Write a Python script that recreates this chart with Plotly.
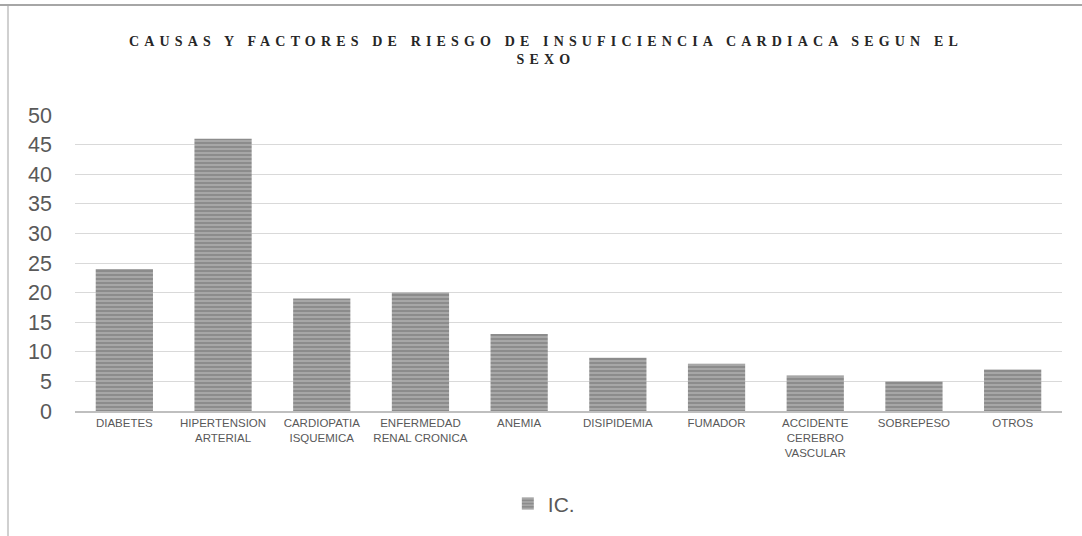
import plotly.graph_objects as go

categories = ["DIABETES", "HIPERTENSION<br>ARTERIAL", "CARDIOPATIA<br>ISQUEMICA",
              "ENFERMEDAD<br>RENAL CRONICA", "ANEMIA", "DISIPIDEMIA", "FUMADOR",
              "ACCIDENTE<br>CEREBRO<br>VASCULAR", "SOBREPESO", "OTROS"]
values = [24, 46, 19, 20, 13, 9, 8, 6, 5, 7]
series_name = "IC."
y_ticks = [0, 5, 10, 15, 20, 25, 30, 35, 40, 45, 50]
title_text = "CAUSAS Y FACTORES DE RIESGO DE INSUFICIENCIA CARDIACA SEGUN EL<br>SEXO"

fig = go.Figure()
fig.add_trace(go.Bar(
    x=categories, y=values, name=series_name,
    marker=dict(color="#8c8c8c", line=dict(width=0),
                pattern=dict(shape="-", fgcolor="#c8c8c8", bgcolor="#8c8c8c",
                             size=4, solidity=0.45)),
))

fig.update_layout(
    width=1082, height=536,
    paper_bgcolor="white", plot_bgcolor="white",
    margin=dict(l=75, r=20, t=115, b=125),
    bargap=0.42,
    showlegend=True,
    legend=dict(orientation="h", x=0.475, xanchor="center", y=-0.314, yanchor="middle",
                font=dict(family="Liberation Sans, Arial", size=21, color="#595959")),
    title=dict(text=title_text, x=0.5046, xanchor="center", y=0.914, yanchor="middle",
               font=dict(family="Liberation Serif, Times New Roman", size=14,
                         color="#262626", weight="bold")),
    xaxis=dict(showline=True, linecolor="#bfbfbf", linewidth=2, ticks="",
               tickfont=dict(family="Liberation Sans, Arial", size=11.5, color="#595959"),
               showgrid=False),
    yaxis=dict(range=[0, 50], tickvals=y_ticks, showgrid=True, gridcolor="#d9d9d9",
               gridwidth=1, zeroline=False, showline=False, ticks="",
               ticklabelstandoff=22,
               tickfont=dict(family="Liberation Sans, Arial", size=21.5, color="#595959")),
    shapes=[
        dict(type="line", xref="paper", yref="paper", x0=-0.08, x1=1.03, y0=1.3716, y1=1.3716,
             line=dict(color="#a6a6a6", width=2)),
        dict(type="line", xref="paper", yref="paper", x0=-0.0679, x1=-0.0679, y0=1.368, y1=-0.43,
             line=dict(color="#d0d0d0", width=2)),
    ],
)

post = """
document.body.style.margin = '0';
document.body.style.padding = '0';
var t = document.querySelectorAll('.gtitle');
t.forEach(function(el){ el.style.letterSpacing = '5.15px'; });
"""
fig.write_html("out.html", post_script=post, config={"displayModeBar": False})
